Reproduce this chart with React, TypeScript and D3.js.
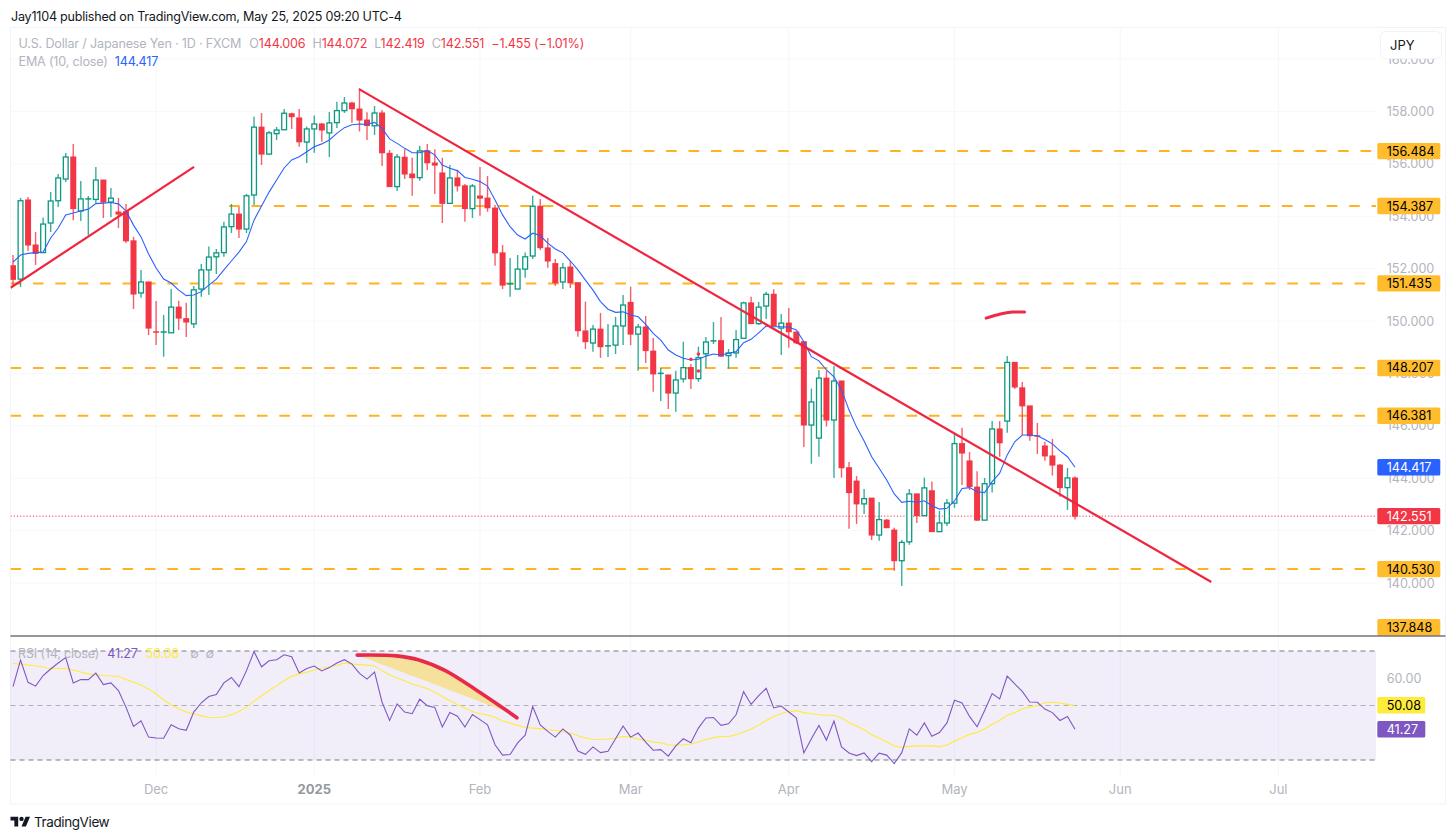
import React from "react";
import * as d3 from "d3";

const opens = [
152.11,151.60,154.62,152.90,152.61,153.74,154.59,155.42,156.26,154.20,
154.64,154.64,155.38,154.54,154.16,154.17,153.06,151.07,151.49,149.59,
149.57,149.55,150.53,150.09,149.89,151.22,151.95,152.45,152.61,153.60,
154.08,153.51,154.81,157.40,156.37,157.15,157.30,157.91,157.75,156.83,
157.33,157.52,157.18,157.57,158.03,158.32,158.09,157.67,157.45,157.94,
156.40,155.13,156.25,155.61,155.47,156.49,156.03,155.65,154.49,155.46,
155.16,154.29,154.77,154.69,154.31,152.60,151.40,151.22,151.98,152.48,
154.38,152.79,152.19,151.49,152.06,151.46,149.62,149.16,149.69,149.03,
149.08,149.81,150.71,149.50,149.77,148.85,147.98,147.94,147.25,147.79,
148.22,147.80,148.75,149.22,149.25,148.68,148.78,149.34,150.69,149.90,
150.57,151.02,149.73,149.92,149.58,149.21,146.03,145.53,147.82,146.22,
147.71,144.40,143.89,143.02,143.24,141.83,142.40,142.02,140.85,141.57,
143.40,142.57,143.52,141.96,142.29,143.05,145.32,144.66,143.66,142.40,
143.79,145.88,146.18,148.42,147.45,146.76,145.62,145.23,144.85,144.50,
143.64,144.006];
const highs = [
152.52,154.69,154.73,153.40,153.95,154.92,155.61,156.41,156.76,155.34,
154.77,155.88,155.38,155.08,154.69,154.47,153.22,151.95,151.49,150.76,
150.23,151.22,150.77,150.70,151.34,152.18,152.84,152.75,153.79,154.47,
154.35,154.85,157.80,157.94,157.25,157.40,158.09,157.95,158.09,157.42,
157.84,157.56,157.98,158.37,158.55,158.37,158.88,157.97,158.21,158.05,
156.53,156.37,156.56,156.23,156.69,156.76,156.56,156.23,155.95,155.76,
155.23,155.23,155.88,155.53,154.43,152.90,152.40,152.52,152.61,154.78,
154.66,153.17,152.37,152.21,152.30,151.46,150.74,149.85,150.31,149.89,
150.16,150.99,151.31,149.89,150.19,149.35,148.21,147.94,148.10,149.21,
148.36,149.02,149.39,149.96,150.15,148.93,149.66,150.74,150.93,150.73,
151.12,151.21,150.27,150.50,149.58,149.21,147.42,148.13,148.10,148.28,
147.72,144.62,144.08,143.59,143.24,143.09,142.44,142.11,141.64,143.59,
143.41,144.02,143.87,142.75,143.21,145.73,145.93,145.00,144.27,144.01,
146.18,146.18,148.66,148.42,147.67,146.76,146.11,145.39,145.50,144.54,
144.39,144.072];
const lows = [
151.34,151.30,152.67,152.14,152.60,153.40,154.35,155.31,153.85,153.82,
153.28,154.50,153.93,153.97,153.55,152.98,150.46,150.89,149.47,149.08,
148.64,149.54,149.66,149.39,149.73,150.93,150.99,151.79,152.45,153.36,
153.17,153.36,154.43,155.95,156.35,156.91,157.29,157.33,156.65,156.03,
156.42,156.84,156.26,157.37,157.94,157.57,157.23,156.91,157.10,155.92,
155.12,154.96,155.42,154.78,155.35,155.76,154.85,153.74,154.47,154.94,
153.79,153.93,154.02,154.17,152.11,151.22,150.93,151.21,151.65,152.37,
152.71,152.03,151.35,151.22,151.26,149.40,148.93,148.83,148.59,148.63,
148.74,149.08,149.08,148.10,148.40,147.30,146.95,146.64,146.54,147.65,
147.40,147.68,148.22,149.12,148.63,148.18,148.60,149.33,149.89,149.85,
150.08,149.81,148.70,148.98,149.12,145.19,144.55,144.82,145.97,144.01,
144.02,142.07,142.25,142.63,141.64,141.61,142.10,140.47,139.89,141.46,
142.29,142.56,141.95,141.95,142.18,142.87,143.74,143.55,142.37,142.39,
143.45,144.82,145.73,147.40,145.65,145.43,144.92,144.67,144.10,143.29,
142.79,142.419];
const closes = [
151.59,154.59,152.90,152.58,153.70,154.58,155.46,156.26,154.29,154.66,
154.67,155.38,154.54,154.69,154.08,153.06,151.03,151.49,149.73,149.56,
149.59,150.53,150.11,149.96,151.19,151.95,152.44,152.60,153.59,154.08,
153.51,154.78,157.40,156.37,157.18,157.29,157.93,157.80,156.84,157.33,
157.52,157.29,157.56,158.03,158.32,158.10,157.67,157.46,157.94,156.42,
155.13,156.26,155.61,155.47,156.49,156.04,155.95,154.49,155.46,155.16,
154.29,155.15,154.69,154.32,152.60,151.37,151.43,151.98,152.45,154.38,
152.80,152.29,151.46,152.03,151.46,149.63,149.21,149.69,149.02,149.06,
149.81,150.61,149.50,149.77,148.87,147.98,148.01,147.25,147.75,148.22,
147.80,148.60,149.20,149.25,148.66,148.78,149.29,150.69,149.90,150.53,
151.02,149.82,149.92,149.59,149.17,146.03,146.91,147.82,146.22,147.71,
144.40,143.45,143.02,143.22,141.83,142.42,142.11,140.85,141.55,143.40,
142.57,143.63,141.96,142.29,143.05,145.32,144.96,143.68,142.40,143.79,
145.88,145.35,148.42,147.48,146.76,145.62,145.60,144.85,144.50,143.64,
144.01,142.551];
const emaValues = [
152.25,152.52,152.58,152.61,152.63,153.17,153.55,154.05,154.12,154.20,
154.27,154.48,154.50,154.52,154.47,154.20,153.66,153.21,152.56,152.02,
151.60,151.45,151.18,150.97,150.99,151.12,151.37,151.60,151.95,152.29,
152.63,153.03,153.85,154.39,154.92,155.38,155.84,156.15,156.27,156.46,
156.65,156.76,156.91,157.16,157.38,157.49,157.52,157.51,157.58,157.35,
156.95,156.78,156.59,156.42,156.42,156.50,156.34,155.95,155.83,155.74,
155.48,155.41,155.32,155.15,154.62,154.05,153.60,153.28,153.13,153.35,
153.26,152.97,152.75,152.60,152.29,151.95,151.56,151.18,150.74,150.45,
150.33,150.35,150.23,150.16,149.87,149.53,149.27,148.89,148.70,148.58,
148.51,148.54,148.66,148.74,148.70,148.77,148.83,149.17,149.30,149.55,
149.81,149.78,149.78,149.76,149.66,149.21,148.64,148.48,148.13,147.87,
147.37,146.60,145.95,145.42,144.82,144.38,143.93,143.40,143.08,143.12,
143.08,143.14,142.95,142.82,142.85,143.13,143.61,143.64,143.48,143.45,
143.87,144.19,144.89,145.39,145.65,145.65,145.62,145.48,145.31,145.04,
144.82,144.417];
const rsiValues = [
56.9,66.7,58.5,57.1,61.0,63.4,65.6,67.6,58.3,59.5,
59.5,61.9,57.7,58.3,55.5,49.4,42.3,44.4,38.4,38.1,
38.0,42.9,41.5,40.9,47.6,51.0,53.3,54.0,58.3,60.3,
56.9,62.8,69.8,64.2,66.4,66.8,68.6,67.9,61.9,63.6,
64.5,62.7,63.9,65.6,66.8,65.2,61.8,59.7,62.3,51.2,
44.5,50.6,47.6,47.0,52.3,49.9,49.3,42.1,47.4,46.1,
42.1,46.7,44.8,42.9,35.6,31.8,32.0,36.3,39.1,49.6,
42.9,40.5,38.4,41.4,39.1,33.3,32.1,34.8,32.7,33.2,
37.8,42.5,38.4,39.9,36.6,33.6,33.8,31.4,35.2,37.8,
36.3,41.7,45.4,45.6,42.7,43.3,46.6,55.1,50.4,53.6,
56.3,49.1,49.8,47.6,45.5,32.6,37.8,42.7,37.3,44.3,
34.8,32.6,31.6,32.6,29.4,32.5,31.8,28.7,32.7,41.4,
39.1,43.6,38.7,40.1,43.6,51.9,50.9,46.0,42.2,48.2,
54.4,52.4,60.8,57.9,55.2,51.3,51.2,48.7,47.4,44.5,
46.0,41.27];
const rsiMaValues = [
65.4,65.2,64.8,64.6,64.1,63.6,63.6,63.6,63.0,62.3,
61.6,61.3,61.0,60.8,60.7,59.5,58.5,57.5,56.0,54.3,
52.1,50.2,48.8,47.6,47.0,46.2,45.7,45.6,45.9,46.6,
47.8,49.4,51.6,53.5,55.5,57.3,59.1,60.7,61.6,62.2,
63.0,63.7,64.1,64.8,65.6,65.2,65.0,64.8,64.5,62.8,
61.3,60.1,59.1,57.9,57.1,56.2,54.9,53.2,51.8,50.4,
49.1,47.8,47.0,46.5,45.7,44.3,43.6,42.7,42.0,41.7,
41.5,41.1,40.8,40.5,39.9,38.9,38.1,37.6,37.5,37.7,
38.1,38.6,38.4,37.7,37.2,36.6,36.3,35.6,35.4,35.6,
35.9,36.6,37.5,38.2,38.6,38.6,39.3,40.3,41.4,42.8,
44.5,46.0,47.1,47.8,48.1,47.4,47.0,46.7,46.4,46.4,
45.4,43.8,42.5,41.1,39.3,38.1,36.6,35.2,34.6,35.0,
35.2,35.2,35.2,34.9,35.5,36.9,38.2,39.4,40.1,41.4,
43.1,44.5,46.4,47.3,48.8,49.4,50.0,51.0,51.2,50.9,
50.4,50.08];

const priceTicks = [160, 158, 156, 154, 152, 150, 148, 146, 144, 142, 140];
const levelPrices = [156.484, 154.387, 151.435, 148.207, 146.381, 140.53];
const levelStartIndex = [54, 28.7, -0.33, -0.33, -0.33, -0.33];
const offscreenLevel = 137.848;
const lastPrice = 142.551;
const emaLast = 144.417;
const rsiLast = 41.27;
const rsiMaLast = 50.08;

const dateLabels = ["Dec", "2025", "Feb", "Mar", "Apr", "May", "Jun", "Jul"];
const dateIndex = [19, 40, 62, 82, 103, 125, 147, 168];

const riseTrend: [number, number][] = [[-0.33, 151.27], [24.04, 155.88]];
const fallTrend: [number, number][] = [[45.95, 158.85], [159.1, 140.04]];
const brushMark: [number, number][] = [[129.2, 150.11], [131.1, 150.27], [132.7, 150.34], [134.3, 150.34]];
const redDots: [number, number][] = [[90, 148.54], [91, 148.74], [91, 148.09]];
const rsiBrush: [number, number][] = [[45.7, 68.5], [50.9, 68.2], [53.9, 66.7], [57.4, 62.8], [61.5, 55.7], [65.2, 48.8], [66.9, 45.5]];
const rsiWedge: [number, number][] = [...rsiBrush.slice(0, 6), [66.1, 47.1]];

const GREEN = "#089981";
const RED = "#f23645";
const TREND = "#f0243e";
const ORANGE = "#ffb31f";
const LABEL = "#ffbd2e";
const GRAY = "#b2b5be";
const FONT = "Inter, 'Noto Sans', sans-serif";

const L = 10.5, R = 1376, FR = 1445.5;

const x = d3.scaleLinear().domain([0, 141]).range([13, 1075]);
const y = d3.scaleLinear().domain([140, 158]).range([583, 111.4]);
const ry = d3.scaleLinear().domain([30, 70]).range([760, 651]);

const pLine = d3.line<number>().x((_, i) => x(i)).y(v => y(v));
const rLine = d3.line<number>().x((_, i) => x(i)).y(v => ry(v));
const drawP = d3.line<[number, number]>().x(d => x(d[0])).y(d => y(d[1]));
const smoothP = d3.line<[number, number]>().x(d => x(d[0])).y(d => y(d[1])).curve(d3.curveCatmullRom);
const smoothR = d3.line<[number, number]>().x(d => x(d[0])).y(d => ry(d[1])).curve(d3.curveCatmullRom);

function AxisBox({ cy, text, fill, color = "#000", w = 63 }: { cy: number; text: string; fill: string; color?: string; w?: number }) {
  return (
    <g>
      <rect x={1377.3} y={cy - 8.2} width={w} height={16.4} rx={1.5} fill={fill} />
      <text x={1386.7} y={cy + 4.5} fontSize={12.6} fill={color} fontFamily={FONT}>{text}</text>
    </g>
  );
}

export default function App() {
  return (
    <svg width={1456} height={840} style={{ position: "absolute", left: 0, top: 0, background: "#fff" }} fontFamily={FONT}>
      <defs>
        <clipPath id="main"><rect x={L} y={27} width={R - L} height={609} /></clipPath>
        <clipPath id="sub"><rect x={L} y={637} width={R - L} height={139} /></clipPath>
      </defs>
      <text x={11} y={20.5} fontSize={12.6} letterSpacing={-0.24} fill="#131722">Jay1104 published on TradingView.com, May 25, 2025 09:20 UTC-4</text>
      <rect x={L} y={27.5} width={FR - L} height={776.5} fill="none" stroke="#f0f3fa" />

      {priceTicks.map(p => <line key={p} x1={L} x2={R} y1={y(p)} y2={y(p)} stroke="#f7f8fb" />)}
      {dateIndex.map(i => <line key={i} x1={x(i)} x2={x(i)} y1={27} y2={776} stroke="#f5f6fa" />)}

      <g clipPath="url(#main)">
        {levelPrices.map((p, i) => (
          <line key={p} x1={x(levelStartIndex[i])} x2={R} y1={y(p)} y2={y(p)} stroke={ORANGE} strokeWidth={2} strokeDasharray="10.6 11.8" />
        ))}
        <line x1={L} x2={R} y1={y(lastPrice)} y2={y(lastPrice)} stroke={RED} strokeWidth={1} strokeDasharray="1.2 2" />

        {closes.map((c, i) => {
          const o = opens[i];
          const up = c >= o;
          const col = up ? GREEN : RED;
          const top = y(Math.max(o, c));
          const bot = y(Math.min(o, c));
          const thin = bot - top < 1.8;
          return (
            <g key={i}>
              <line x1={x(i)} x2={x(i)} y1={y(highs[i])} y2={y(lows[i])} stroke={col} strokeWidth={1.4} strokeOpacity={0.8} />
              {thin ? (
                <rect x={x(i) - 3} y={top - 0.5} width={6} height={Math.max(1.5, bot - top)} fill={col} />
              ) : up ? (
                <rect x={x(i) - 2.4} y={top} width={4.8} height={bot - top} fill="#fff" stroke={col} strokeWidth={1.3} />
              ) : (
                <rect x={x(i) - 3} y={top - 0.5} width={6} height={bot - top + 1} fill={col} />
              )}
            </g>
          );
        })}

        <path d={pLine(emaValues) ?? ""} fill="none" stroke="#2962ff" strokeWidth={1.1} />
        <path d={drawP(riseTrend) ?? ""} fill="none" stroke={TREND} strokeWidth={2.2} />
        <path d={drawP(fallTrend) ?? ""} fill="none" stroke={TREND} strokeWidth={2.2} />
        <path d={smoothP(brushMark) ?? ""} fill="none" stroke="#ec2a4a" strokeWidth={3} strokeLinecap="round" />
        {redDots.map((d, i) => <circle key={i} cx={x(d[0])} cy={y(d[1])} r={1.8} fill={RED} />)}
      </g>

      {priceTicks.map(p => (
        <text key={p} x={1386.7} y={y(p) + 4.5} fontSize={12.6} fill={GRAY}>{d3.format(".3f")(p)}</text>
      ))}
      <rect x={1380.5} y={31.5} width={61} height={27} rx={5} fill="#fff" stroke="#f0f3fa" />
      <text x={1390} y={49.5} fontSize={13} fill="#131722">JPY</text>

      {levelPrices.map(p => <AxisBox key={p} cy={y(p)} text={d3.format(".3f")(p)} fill={LABEL} />)}
      <AxisBox cy={627.3} text={d3.format(".3f")(offscreenLevel)} fill={LABEL} />
      <AxisBox cy={y(emaLast)} text={d3.format(".3f")(emaLast)} fill="#2962ff" color="#fff" />
      <AxisBox cy={y(lastPrice)} text={d3.format(".3f")(lastPrice)} fill={RED} color="#fff" />

      <text x={18.5} y={48} fontSize={12.6} letterSpacing={-0.18} fill={GRAY}>
        U.S. Dollar / Japanese Yen · 1D · FXCM
        <tspan dx={8}>O</tspan><tspan fill={RED}>144.006</tspan>
        <tspan dx={7}>H</tspan><tspan fill={RED}>144.072</tspan>
        <tspan dx={7}>L</tspan><tspan fill={RED}>142.419</tspan>
        <tspan dx={7}>C</tspan><tspan fill={RED}>142.551</tspan>
        <tspan dx={7} fill={RED}>−1.455 (−1.01%)</tspan>
      </text>
      <text x={18.5} y={65.5} fontSize={12.6} letterSpacing={-0.18} fill={GRAY}>
        EMA (10, close)<tspan dx={7} fill="#2962ff">144.417</tspan>
      </text>

      <line x1={L} x2={FR} y1={636} y2={636} stroke="#2a2e39" strokeWidth={1.2} />

      <rect x={L} y={ry(70)} width={R - L} height={ry(30) - ry(70)} fill="#7e57c2" fillOpacity={0.1} />
      {[70, 50, 30].map(v => (
        <line key={v} x1={L} x2={R} y1={ry(v)} y2={ry(v)} stroke={v === 50 ? "#b2aebd" : "#787b86"} strokeWidth={1} strokeDasharray="5 4" />
      ))}
      <g clipPath="url(#sub)">
        <path d={rLine(rsiMaValues) ?? ""} fill="none" stroke="#ffeb3b" strokeWidth={1.1} />
        <path d={rLine(rsiValues) ?? ""} fill="none" stroke="#7e57c2" strokeWidth={1.1} />
        <path d={(smoothR(rsiWedge) ?? "") + "Z"} fill="#f5e19b" />
        <path d={smoothR(rsiBrush) ?? ""} fill="none" stroke="#e8294a" strokeWidth={3.6} strokeLinecap="round" />
      </g>
      <text x={18} y={657.5} fontSize={12.6} letterSpacing={-0.18} fill={GRAY}>
        RSI (14, close)<tspan dx={8} fill="#7e57c2">41.27</tspan><tspan dx={8} fill="#ffeb3b">50.08</tspan>
        <tspan dx={11}>∅</tspan><tspan dx={7}>∅</tspan>
      </text>
      <text x={1386.7} y={ry(60) + 4.5} fontSize={12.6} fill={GRAY}>60.00</text>
      <AxisBox cy={ry(rsiMaLast)} text={rsiMaLast.toFixed(2)} fill="#ffeb3b" w={48} />
      <AxisBox cy={ry(rsiLast)} text={rsiLast.toFixed(2)} fill="#7e57c2" color="#fff" w={48} />

      {dateLabels.map((t, i) => (
        <text key={t} x={x(dateIndex[i])} y={793.5} fontSize={13} textAnchor="middle"
          fill={t === "2025" ? "#9598a1" : GRAY} fontWeight={t === "2025" ? 700 : 400}>{t}</text>
      ))}

      <g transform="translate(10.5 814.5) scale(0.55)" fill="#131722">
        <path d="M14 22H7V11H0V4h14v18zM28 22h-8l7.5-18h8L28 22z" />
        <circle cx={20} cy={8} r={4} />
      </g>
      <text x={34} y={827} fontSize={13.5} letterSpacing={-0.4} fill="#131722">TradingView</text>
    </svg>
  );
}
